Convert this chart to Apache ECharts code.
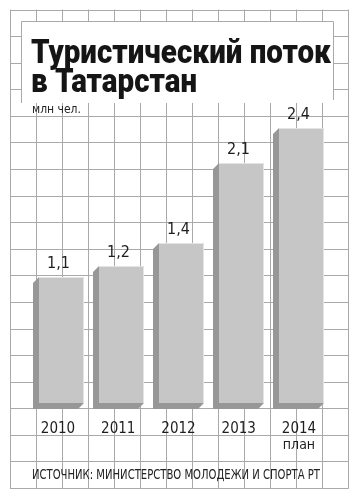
<!DOCTYPE html>
<html>
<head>
<meta charset="utf-8">
<script src="https://cdn.jsdelivr.net/npm/echarts@6/dist/echarts.min.js"></script>
<style>
  html, body { margin: 0; padding: 0; background: #ffffff; }
  #chart { width: 358px; height: 500px; }
</style>
</head>
<body>
<div id="chart"></div>
<script>
// Tourist flow to Tatarstan, million people
var years = ['2010', '2011', '2012', '2013', '2014'];
var visitors = [1.1, 1.2, 1.4, 2.1, 2.4];
var titleLines = ['Туристический поток', 'в Татарстан'];
var unitText = 'млн чел.';
var planText = 'план';
var sourceText = 'ИСТОЧНИК: МИНИСТЕРСТВО МОЛОДЕЖИ И СПОРТА РТ';

(function () {
  var TITLE_FONT = '900 34px Roboto';
  var NARROW = '"DejaVu Sans Condensed", "Liberation Sans Narrow", sans-serif';
  var SOURCE_FONT = '14px ' + NARROW;

  // squeeze text to a fixed width
  function measure(font, text) {
    var ctx = document.createElement('canvas').getContext('2d');
    ctx.font = font;
    return ctx.measureText(text).width;
  }
  var titleScale = 300 / measure(TITLE_FONT, titleLines[0]);
  var sourceScale = 288 / measure(SOURCE_FONT, sourceText);

  // background squared-paper pattern
  var paper = [];
  var cols = 13, rows = 18;
  var pL = 10, pT = 9.5, pR = 348, pB = 488;
  var cw = (pR - pL) / cols, rh = (pB - pT) / rows;
  for (var i = 0; i <= cols; i++) {
    var x = Math.round(pL + i * cw) + 0.5;
    paper.push({ type: 'line', z: 0, shape: { x1: x, y1: pT, x2: x, y2: pB + 0.5 },
      style: { stroke: '#a9a9a9', lineWidth: 1 }, silent: true });
  }
  for (var j = 0; j <= rows; j++) {
    var y = Math.round(pT + j * rh) + 0.5;
    paper.push({ type: 'line', z: 0, shape: { x1: pL, y1: y, x2: pR + 0.5, y2: y },
      style: { stroke: '#a9a9a9', lineWidth: 1 }, silent: true });
  }

  var chart = echarts.init(document.getElementById('chart'), null, { renderer: 'canvas' });

  chart.setOption({
    backgroundColor: '#ffffff',
    animation: false,
    graphic: paper.concat([
      // headline panel
      { type: 'rect', z: 1, shape: { x: 21, y: 21, width: 313, height: 82 },
        style: { fill: '#ffffff' }, silent: true },
      { type: 'polyline', z: 1, shape: { points: [[21.5, 103], [21.5, 21.5], [333.5, 21.5], [333.5, 100]] },
        style: { stroke: '#a9a9a9', lineWidth: 1, fill: null }, silent: true },
      { type: 'text', z: 2, x: 31, y: 71, scaleX: titleScale,
        style: { text: titleLines[0], font: TITLE_FONT, fill: '#151515', verticalAlign: 'bottom' } },
      { type: 'text', z: 2, x: 31, y: 100, scaleX: titleScale,
        style: { text: titleLines[1], font: TITLE_FONT, fill: '#151515', verticalAlign: 'bottom' } },
      { type: 'text', z: 2, x: 32, y: 104,
        style: { text: unitText, font: '12px ' + NARROW, fill: '#222222' } },
      { type: 'text', z: 2, x: 32, y: 468, scaleX: sourceScale,
        style: { text: sourceText, font: SOURCE_FONT, fill: '#222222' } }
    ]),
    grid: { left: 30.9, right: 25.9, top: 128.4, bottom: 96.6 },
    xAxis: {
      type: 'category',
      data: years,
      axisLine: { show: false },
      axisTick: { show: false },
      axisLabel: {
        interval: 0,
        margin: 18,
        padding: [0, 6, 0, 0],
        fontFamily: NARROW,
        fontSize: 15,
        color: '#1e1e1e',
        formatter: function (v, idx) {
          return idx === years.length - 1 ? v + '\n{p|' + planText + '}' : v;
        },
        rich: { p: { fontFamily: NARROW, fontSize: 14, color: '#1e1e1e', lineHeight: 18 } }
      }
    },
    yAxis: { type: 'value', min: 0, max: 2.4, show: false, splitLine: { show: false } },
    series: [{
      type: 'custom',
      z: 5,
      data: visitors.map(function (v, i) { return [i, v]; }),
      renderItem: function (params, api) {
        var v = api.value(1);
        var topPt = api.coord([api.value(0), v]);
        var basePt = api.coord([api.value(0), 0]);
        var w = api.size([1, 0])[0] * 0.747;
        var x0 = Math.round(topPt[0] - w / 2), x1 = Math.round(topPt[0] + w / 2);
        var yT = Math.round(topPt[1]), yB = Math.round(basePt[1]);
        var d = 6;
        return {
          type: 'group',
          children: [
            { type: 'polygon',
              shape: { points: [[x0, yT], [x0 - d, yT + d], [x0 - d, yB + d], [x1 - d, yB + d], [x1, yB], [x0, yB]] },
              style: { fill: '#979797' } },
            { type: 'rect', shape: { x: x0, y: yT, width: x1 - x0, height: yB - yT },
              style: { fill: '#c6c6c6' } },
            { type: 'polyline',
              shape: { points: [[x0, yT + 0.5], [x1 - 0.5, yT + 0.5], [x1 - 0.5, yB]] },
              style: { stroke: '#e4e4e4', lineWidth: 1, fill: null } },
            { type: 'text', x: (x0 + x1) / 2 - 3, y: yT - 5,
              style: { text: String(v).replace('.', ','), font: '16px ' + NARROW, fill: '#1e1e1e',
                       align: 'center', verticalAlign: 'bottom' } }
          ]
        };
      }
    }]
  });
})();
</script>
</body>
</html>
